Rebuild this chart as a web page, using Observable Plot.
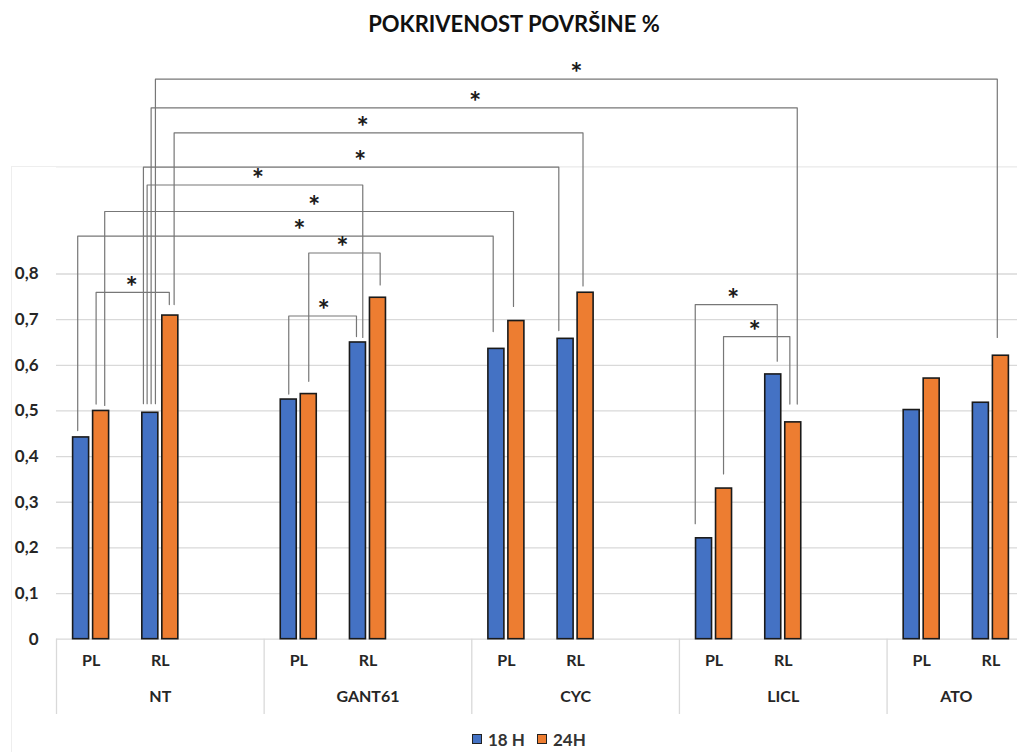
<!DOCTYPE html>
<html>
<head>
<meta charset="utf-8">
<script src="https://cdn.jsdelivr.net/npm/d3@7"></script>
<script src="https://cdn.jsdelivr.net/npm/@observablehq/plot@0.6"></script>
<style>
  body { margin: 0; width: 1017px; height: 752px; overflow: hidden; background: #fff; position: relative;
         font-family: Lato, "Open Sans", sans-serif; }
  #title { position: absolute; left: 0; top: 10px; width: 1028px; text-align: center; font-weight: 700;
           font-size: 22px; line-height: 28px; color: #111; }
  #frame { position: absolute; left: 11px; top: 166px; width: 1100px; height: 700px;
           border-left: 1px solid #eeeeee; border-top: 1px solid #eeeeee; }
  #chart { position: absolute; left: 0; top: 44px; }
  #chart svg { max-width: none; }
  #legend { position: absolute; left: 472px; top: 729px; height: 20px; display: flex; align-items: center;
            font-weight: 700; font-size: 17px; color: #333; }
  #legend .item { display: flex; align-items: center; margin-right: 12px; }
  #legend .sw { width: 8px; height: 8px; border: 1px solid #222; margin-right: 6px; }
</style>
</head>
<body>
<div id="frame"></div>
<div id="title"></div>
<div id="chart"></div>
<div id="legend"></div>
<script>
// ---------------- data ----------------
const titleText = "POKRIVENOST POVRŠINE %";
const groups = ["NT", "GANT61", "CYC", "LICL", "ATO"];
const subgroups = ["PL", "RL"];
const seriesNames = ["18 H", "24H"];
const seriesColors = ["#4472C4", "#ED7D31"];
// order: NT PL, NT RL, GANT61 PL, GANT61 RL, CYC PL, CYC RL, LICL PL, LICL RL, ATO PL, ATO RL
const values18H = [0.442, 0.496, 0.525, 0.650, 0.636, 0.658, 0.221, 0.580, 0.502, 0.518];
const values24H = [0.500, 0.709, 0.537, 0.748, 0.697, 0.759, 0.330, 0.475, 0.571, 0.621];
const yTicks = [0, 0.1, 0.2, 0.3, 0.4, 0.5, 0.6, 0.7, 0.8];
const yTickLabels = ["0", "0,1", "0,2", "0,3", "0,4", "0,5", "0,6", "0,7", "0,8"];
const yMax = 1.034;

// significance brackets: compared bars, bracket level and leg ends (y units)
const bracketLeft  = ["NT|PL|24H", "NT|PL|18 H", "NT|PL|24H", "NT|RL|18 H", "NT|RL|18 H", "NT|RL|24H",
                      "NT|RL|18 H", "NT|RL|18 H", "GANT61|PL|24H", "GANT61|PL|18 H", "LICL|PL|18 H", "LICL|PL|24H"];
const bracketRight = ["NT|RL|24H", "CYC|PL|18 H", "CYC|PL|24H", "GANT61|RL|18 H", "CYC|RL|18 H", "CYC|RL|24H",
                      "LICL|RL|24H", "ATO|RL|24H", "GANT61|RL|24H", "GANT61|RL|18 H", "LICL|RL|18 H", "LICL|RL|24H"];
const bracketLevel    = [0.760, 0.883, 0.937, 0.995, 1.034, 1.109, 1.164, 1.227, 0.846, 0.708, 0.733, 0.663];
const bracketLeftEnd  = [0.515, 0.457, 0.512, 0.516, 0.516, 0.733, 0.516, 0.516, 0.565, 0.537, 0.253, 0.362];
const bracketRightEnd = [0.733, 0.674, 0.729, 0.661, 0.676, 0.774, 0.515, 0.661, 0.776, 0.663, 0.609, 0.515];
const bracketLabel    = ["*", "*", "*", "*", "*", "*", "*", "*", "*", "*", "*", "*"];

// ---------------- layout (pixels) ----------------
const W = 1025, H = 682, ML = 56, MR = 0, MT = 122.7, MB = 87.3;
const legShiftL = [-5, -3.4, 3.6, -3.2, -6.9, 3.8, 0.8, 5.1, 0, 0, -8.8, -0.5];
const legShiftR = [-1, -3.2, -2.9, 4.8, -6.8, -2.6, 4, -3.6, 2.2, -1.5, 4, -3.4];
const starShift = [-1, 14, 5, 3, 9, -16, 1, 0, -2, 1, -3, -2];

const slotsPerGroup = subgroups.length + 1;           // PL, RL, spacer
const nSlots = groups.length * slotsPerGroup - 1;      // last group has no spacer
const pxPerSlot = (W - ML - MR) / nSlots;
const barW = 16, barGap = 4;
const seriesOffset = {"18 H": -(barW + barGap) / 2, "24H": (barW + barGap) / 2};

const slotOf = (g, s) => groups.indexOf(g) * slotsPerGroup + subgroups.indexOf(s);

const rows = groups.flatMap((g, gi) => subgroups.map((s, si) => ({
  group: g, sub: s, slot: slotOf(g, s),
  v18: values18H[gi * subgroups.length + si],
  v24: values24H[gi * subgroups.length + si]
})));

const groupSpans = groups.map((g, gi) => ({
  group: g,
  start: gi * slotsPerGroup,
  end: Math.min(gi * slotsPerGroup + slotsPerGroup, nSlots)
}));
const bounds = [...groupSpans.map(d => d.start), nSlots];

const legX = (key, shift) => {
  const [g, s, ser] = key.split("|");
  return slotOf(g, s) + 0.5 + (seriesOffset[ser] + shift) / pxPerSlot;
};
const brackets = bracketLeft.map((l, i) => {
  const xL = legX(l, legShiftL[i]);
  const xR = legX(bracketRight[i], legShiftR[i]);
  return {id: i, xL, xR, level: bracketLevel[i], yL: bracketLeftEnd[i], yR: bracketRightEnd[i],
          star: (xL + xR) / 2 + starShift[i] / pxPerSlot, label: bracketLabel[i]};
});
const bracketPts = brackets.flatMap(b => [
  {id: b.id, x: b.xL, y: b.yL}, {id: b.id, x: b.xL, y: b.level},
  {id: b.id, x: b.xR, y: b.level}, {id: b.id, x: b.xR, y: b.yR}
]);

const half = pxPerSlot / 2;
const chart = Plot.plot({
  width: W, height: H, marginLeft: ML, marginRight: MR, marginTop: MT, marginBottom: MB,
  x: {type: "linear", domain: [0, nSlots], axis: null},
  y: {domain: [0, yMax], axis: null},
  style: {fontFamily: "Lato, 'Open Sans', sans-serif", background: "transparent", overflow: "visible"},
  marks: [
    Plot.ruleY([yMax], {stroke: "#efefef", strokeWidth: 1}),
    Plot.ruleY(yTicks, {stroke: "#d9d9d9", strokeWidth: 1.3}),
    Plot.ruleX(bounds, {x: d => d, y1: 0, y2: 0, insetBottom: -75.3, stroke: "#d9d9d9", strokeWidth: 1.3}),
    Plot.rectY(rows, {x1: d => d.slot, x2: d => d.slot + 1, y: "v18", fill: seriesColors[0],
      stroke: "#1a1a1a", strokeWidth: 1.6,
      insetLeft: half + seriesOffset["18 H"] - barW / 2, insetRight: half - seriesOffset["18 H"] - barW / 2}),
    Plot.rectY(rows, {x1: d => d.slot, x2: d => d.slot + 1, y: "v24", fill: seriesColors[1],
      stroke: "#1a1a1a", strokeWidth: 1.6,
      insetLeft: half + seriesOffset["24H"] - barW / 2, insetRight: half - seriesOffset["24H"] - barW / 2}),
    Plot.line(bracketPts, {x: "x", y: "y", z: "id", stroke: "#777777", strokeWidth: 1.2, curve: "linear"}),
    Plot.text(brackets, {x: "star", y: "level", text: "label", fontSize: 29, fontWeight: "bold",
      fill: "#1a1a1a", dy: -5}),
    Plot.text(yTicks, {y: d => d, text: (d, i) => yTickLabels[i], frameAnchor: "left", textAnchor: "end",
      dx: -18, fontSize: 17, fontWeight: "bold", fill: "#262626"}),
    Plot.text(rows, {x: d => d.slot + 0.5, text: "sub", frameAnchor: "bottom", dy: 27,
      fontSize: 16, fontWeight: "bold", fill: "#262626"}),
    Plot.text(groupSpans, {x: d => (d.start + d.end) / 2, text: "group", frameAnchor: "bottom", dy: 63,
      fontSize: 16, fontWeight: "bold", fill: "#262626"})
  ]
});
document.getElementById("chart").appendChild(chart);
document.getElementById("title").textContent = titleText;

const legend = document.getElementById("legend");
seriesNames.forEach((name, i) => {
  const item = document.createElement("div");
  item.className = "item";
  const sw = document.createElement("div");
  sw.className = "sw";
  sw.style.background = seriesColors[i];
  const t = document.createElement("span");
  t.textContent = name;
  item.appendChild(sw); item.appendChild(t);
  legend.appendChild(item);
});
</script>
</body>
</html>
